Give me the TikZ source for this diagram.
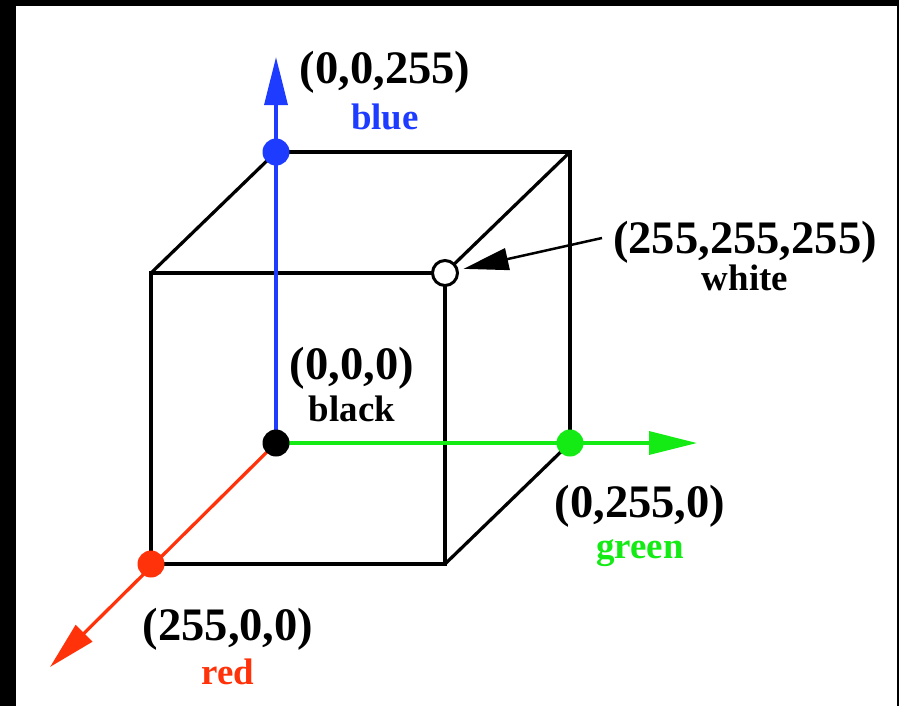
\documentclass[tikz,border=0pt]{standalone}
\usepackage{fontspec}
\setmainfont{Liberation Serif}
\usetikzlibrary{arrows.meta, positioning}
\definecolor{axisblue}{RGB}{30,60,255}
\definecolor{axisred}{RGB}{255,50,10}
\definecolor{axisgreen}{RGB}{20,235,20}

\begin{document}
\begin{tikzpicture}[
		x=0.2mm, y=-0.2mm,
		edge/.style={line width=0.65mm, draw=black},
		axis/.style={line width=0.65mm, -{Triangle[length=9.6mm, width=4.6mm]}},
		pointer/.style={line width=0.5mm, -{Triangle[length=9mm, width=4.4mm]}, shorten >=1mm},
		dot/.style={circle, inner sep=0pt, minimum size=5.4mm},
		coordlbl/.style={font=\bfseries\fontsize{26.5}{29}\selectfont, inner sep=0pt, anchor=base},
		namelbl/.style={font=\bfseries\fontsize{21}{24}\selectfont, inner sep=0pt, anchor=base}
	]
		% frame
		\fill[black] (0,0) rectangle (899,706);
		\fill[white] (16,6) rectangle (897,706);
		% corners of the cube
		\coordinate (k) at (276,443);
		\coordinate (b) at (276,152);
		\coordinate (g) at (570,443);
		\coordinate (r) at (151,564);
		\coordinate (w) at (445,273);
		\coordinate (bg) at (570,152);
		\coordinate (rb) at (151,273);
		\coordinate (rg) at (445,564);
		\coordinate (btip) at (276,57);
		\coordinate (gtip) at (697,443);
		\coordinate (rtip) at (50,667);
		% edges
		\draw[edge] (b) -- (bg) -- (g);
		\draw[edge] (rb) -- (w) -- (rg) -- (r) -- cycle;
		\draw[edge] (rb) -- (b);
		\draw[edge] (w) -- (bg);
		\draw[edge] (rg) -- (g);
		% axes
		\draw[axis, axisblue] (k) -- (btip);
		\draw[axis, axisgreen] (k) -- (gtip);
		\draw[axis, axisred] (k) -- (rtip);
		% dots
		\node[dot, fill=black] (black) at (k) {};
		\node[dot, fill=axisblue] (blue) at (b) {};
		\node[dot, fill=axisgreen] (green) at (g) {};
		\node[dot, fill=axisred] (red) at (r) {};
		\node[dot, draw=black, line width=0.6mm, fill=white, minimum size=5mm] (white) at (w) {};
		% labels
		\node[coordlbl] (bluecoord) at (385,83) {(0,0,255)};
		\node[namelbl, text=axisblue] (bluename) at (385,129) {blue};
		\node[coordlbl] (whitecoord) at (745,253) {(255,255,255)};
		\node[namelbl] (whitename) at (745,290) {white};
		\node[coordlbl] (blackcoord) at (352,379) {(0,0,0)};
		\node[namelbl] (blackname) at (352,421) {black};
		\node[coordlbl] (greencoord) at (640,517) {(0,255,0)};
		\node[namelbl, text=axisgreen] (greenname) at (640,558) {green};
		\node[coordlbl] (redcoord) at (228,640) {(255,0,0)};
		\node[namelbl, text=axisred] (redname) at (228,684) {red};
		\coordinate (ptrstart) at (602,238);
		\draw[pointer] (ptrstart) -- (white);
	\end{tikzpicture}
\end{document}
